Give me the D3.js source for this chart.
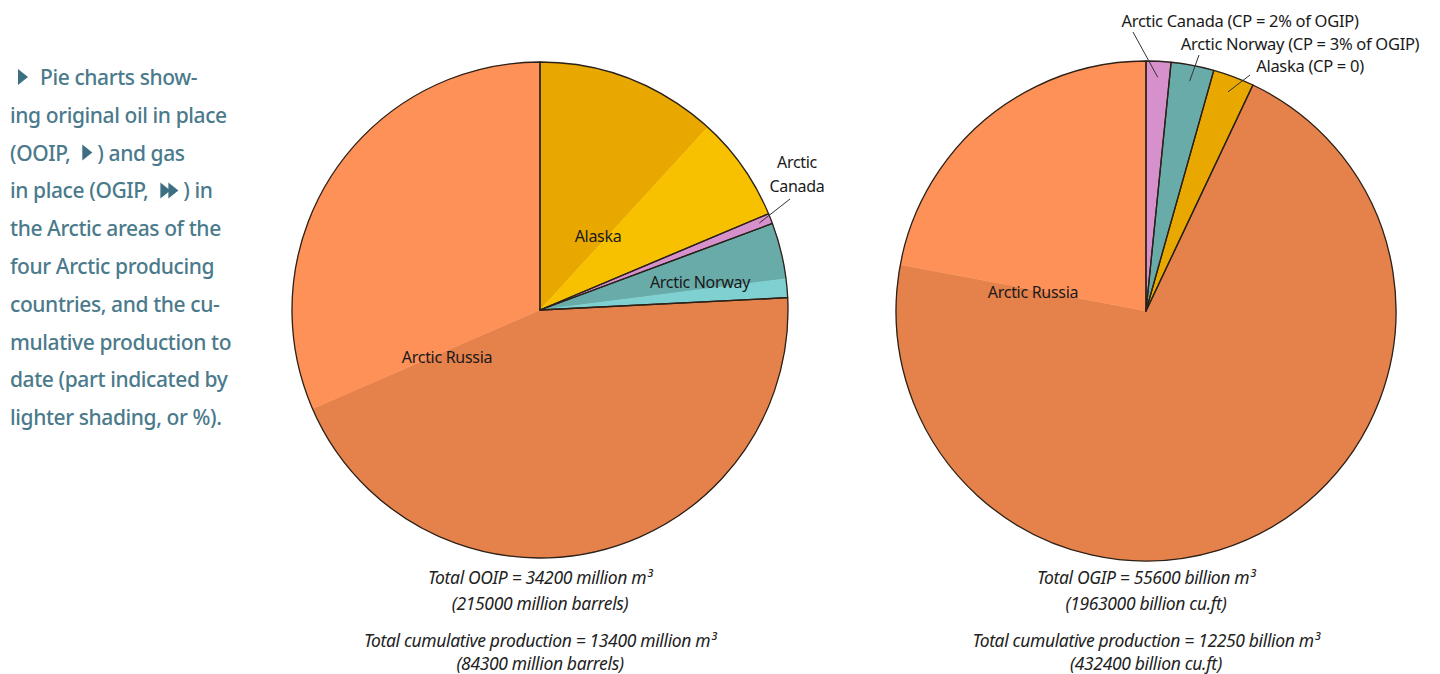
<!DOCTYPE html>
<html>
<head>
<meta charset="utf-8">
<script src="https://cdn.jsdelivr.net/npm/d3@7"></script>
<style>
  body { margin: 0; background: #fff; }
  svg text { font-family: "Noto Sans", "Open Sans", sans-serif; }
</style>
</head>
<body>
<svg id="chart" width="1440" height="674"></svg>
<script>
// oil in place (million m3), clockwise from 12 o'clock
const oilRegions = ["Alaska", "Arctic Canada", "Arctic Norway", "Arctic Russia"];
const oilRemaining = [4040, 230, 1250, 15140];
const oilProduced = [2340, 0, 420, 10780];

// gas in place (billion m3), clockwise from 12 o'clock
const gasRegions = ["Arctic Canada", "Arctic Norway", "Alaska", "Arctic Russia"];
const gasRemaining = [890, 1540, 1480, 39440];
const gasProduced = [0, 0, 0, 12250];

const oilCaption = ["Total OOIP = 34200 million m³", "(215000 million barrels)",
                    "Total cumulative production = 13400 million m³", "(84300 million barrels)"];
const gasCaption = ["Total OGIP = 55600 billion m³", "(1963000 billion cu.ft)",
                    "Total cumulative production = 12250 billion m³", "(432400 billion cu.ft)"];

const introLines = [
    ["▸", "Pie charts show-"],
    ["ing original oil in place"],
    ["(OOIP,", "▸", ") and gas"],
    ["in place (OGIP,", "▸▸", ") in"],
    ["the Arctic areas of the"],
    ["four Arctic producing"],
    ["countries, and the cu-"],
    ["mulative production to"],
    ["date (part indicated by"],
    ["lighter shading, or %)."]
];

const colors = {
    "Alaska": ["#E9A800", "#F8C100"],
    "Arctic Canada": ["#D690CC", "#E4A8DC"],
    "Arctic Norway": ["#68ABA9", "#7FD0D0"],
    "Arctic Russia": ["#E5814B", "#FE9158"]
};

const svg = d3.select("#chart");

// ---- intro text block ----
const intro = svg.append("g");
const textColor = "#4A7A8B";
introLines.forEach((parts, i) => {
    const y = 85 + i * 37.8;
    let x = 10;
    parts.forEach((p, j) => {
        if (p.startsWith("▸")) {
            x += j === 0 ? 8 : 12;
            for (let k = 0; k < p.length; k++) {
                intro.append("path")
                    .attr("d", `M${x},${y - 16} L${x + 10},${y - 8} L${x},${y} Z`)
                    .attr("fill", "#3D6F82");
                x += 8;
            }
            x += j === 0 ? 14 : 7;
        } else {
            const t = intro.append("text").attr("x", x).attr("y", y)
                .attr("fill", textColor).attr("font-size", 21).attr("font-weight", 500)
                .attr("letter-spacing", -0.4).text(p);
            x += t.node().getComputedTextLength();
        }
    });
});

// ---- pies ----
function drawPie(cx, cy, r, regions, remaining, produced, captions) {
    const g = svg.append("g").attr("transform", `translate(${cx},${cy})`);
    const parts = [];
    regions.forEach((name, i) => {
        parts.push({ name, shade: 0, value: remaining[i] });
        parts.push({ name, shade: 1, value: produced[i] });
    });
    const pie = d3.pie().sort(null).value(d => d.value);
    const arc = d3.arc().innerRadius(0).outerRadius(r);

    g.selectAll("path.part").data(pie(parts)).join("path")
        .attr("class", "part")
        .attr("d", arc)
        .attr("fill", d => colors[d.data.name][d.data.shade])
        .attr("stroke", d => colors[d.data.name][d.data.shade])
        .attr("stroke-width", 0.5);

    const totals = regions.map((name, i) => ({ name, value: remaining[i] + produced[i] }));
    const regionArcs = pie(totals);
    g.selectAll("path.region").data(regionArcs).join("path")
        .attr("class", "region")
        .attr("d", arc)
        .attr("fill", "none")
        .attr("stroke", "#2b2118")
        .attr("stroke-width", 1.3)
        .attr("stroke-linejoin", "round");

    const cap = svg.append("g").attr("font-style", "italic").attr("font-size", 17.5)
        .attr("fill", "#222").attr("text-anchor", "middle");
    const capY = [584, 610, 647, 670];
    captions.forEach((c, i) => {
        cap.append("text").attr("x", cx).attr("y", capY[i])
            .attr("letter-spacing", -0.35).text(c);
    });
    return { g, arcs: regionArcs };
}

function leaderPoint(a, rr) {
    const ang = (a.startAngle + a.endAngle) / 2;
    return [Math.sin(ang) * rr, -Math.cos(ang) * rr];
}

function label(g, x, y, txt, size) {
    g.append("text").attr("x", x).attr("y", y).attr("font-size", size || 16)
        .attr("text-anchor", "middle").attr("fill", "#1a1a1a")
        .attr("letter-spacing", -0.3).text(txt);
}

const oil = drawPie(540, 310, 248, oilRegions, oilRemaining, oilProduced, oilCaption);
label(oil.g, 58, -68, "Alaska");
label(oil.g, 160, -22, "Arctic Norway");
label(oil.g, -93, 53, "Arctic Russia");
label(oil.g, 257, -142, "Arctic");
label(oil.g, 257, -118, "Canada");
{
    const p = leaderPoint(oil.arcs[1], 236);
    oil.g.append("line").attr("x1", 250).attr("y1", -111).attr("x2", p[0]).attr("y2", p[1])
        .attr("stroke", "#333").attr("stroke-width", 1);
}

const gas = drawPie(1146, 311, 250, gasRegions, gasRemaining, gasProduced, gasCaption);
label(gas.g, -113, -13, "Arctic Russia");
const gasLabels = [
    { txt: "Arctic Canada (CP = 2% of OGIP)", x: 94, y: -284, lx: -13, ly: -279 },
    { txt: "Arctic Norway (CP = 3% of OGIP)", x: 154, y: -261, lx: 53, ly: -256 },
    { txt: "Alaska (CP = 0)", x: 164, y: -239, lx: 104, ly: -236 }
];
gasLabels.forEach((l, i) => {
    label(gas.g, l.x, l.y, l.txt, 16.5);
    const p = leaderPoint(gas.arcs[i], 234);
    gas.g.append("line").attr("x1", l.lx).attr("y1", l.ly).attr("x2", p[0]).attr("y2", p[1])
        .attr("stroke", "#333").attr("stroke-width", 1);
});
</script>
</body>
</html>
